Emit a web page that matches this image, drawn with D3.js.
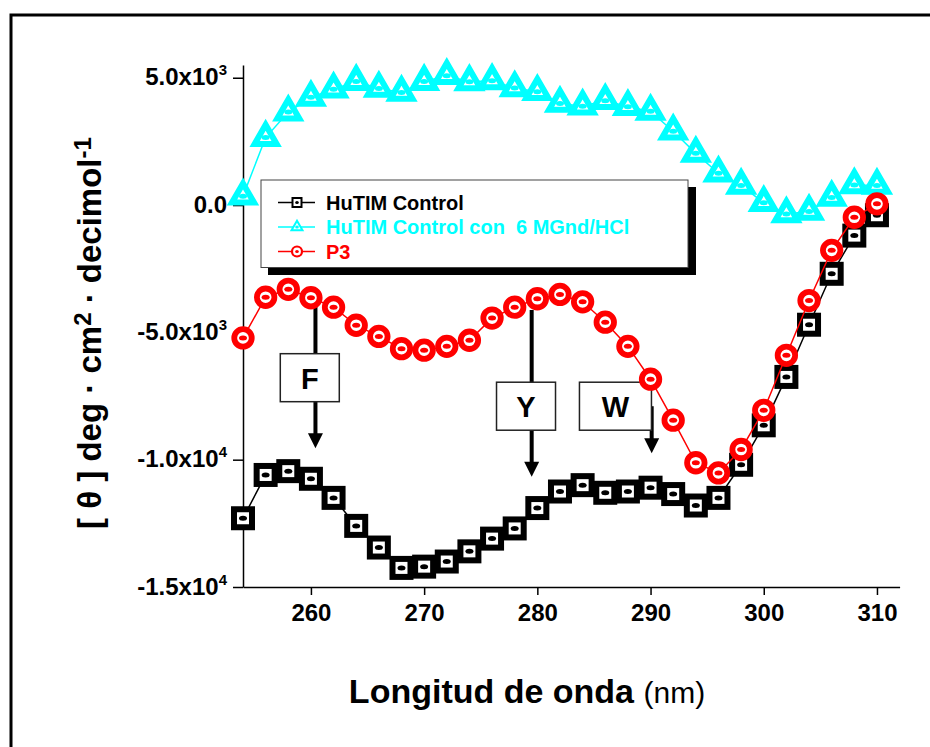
<!DOCTYPE html>
<html>
<head>
<meta charset="utf-8">
<script src="https://cdn.jsdelivr.net/npm/d3@7"></script>
<style>
  body { margin: 0; background: #fff; }
  svg { display: block; font-family: "Liberation Sans", Arial, sans-serif; }
  text { white-space: pre; }
</style>
</head>
<body>
<div id="vis"></div>
<script>
// wavelengths (nm) and ellipticity values
const wavelength = [254,256,258,260,262,264,266,268,270,272,274,276,278,280,282,
                    284,286,288,290,292,294,296,298,300,302,304,306,308,310];
const hutimControl = [-12300,-10600,-10450,-10750,-11500,-12600,-13450,-14250,-14200,-14000,
                      -13600,-13100,-12700,-11900,-11250,-11000,-11300,-11250,-11100,-11350,
                      -11800,-11500,-10200,-8650,-6750,-4700,-2700,-1200,-400];
const hutimGnd = [350,2650,3650,4230,4550,4850,4580,4420,4850,5080,
                  4840,4880,4600,4450,3990,3880,4100,3860,3680,2900,
                  2030,1250,770,90,-350,-250,300,790,770];
const p3 = [-5220,-3620,-3310,-3640,-4010,-4720,-5160,-5640,-5700,-5550,
            -5310,-4440,-4010,-3680,-3510,-3800,-4600,-5550,-6840,-8450,
            -10120,-10520,-9600,-8060,-5900,-3750,-1780,-480,50];

const seriesNames = ["HuTIM Control", "HuTIM Control con  6 MGnd/HCl", "P3"];
const xTicks = [260,270,280,290,300,310];
const xMinorTicks = [255,265,275,285,295,305];
const yTicks = [5000,0,-5000,-10000,-15000];
const yMinorTicks = [3750,2500,1250,-1250,-2500,-3750,-6250,-7500,-8750,-11250,-12500,-13750];

// residue arrows (F, Y, W)
const annLabels = ["F","Y","W"];
const annArrowNm = [260.4, 279.5, 290.1];
const annArrowFrom = [-3960, -4120, -7900];
const annArrowTo = [-9550, -10670, -9750];
const annBoxNm = [259.9, 279.0, 286.9];
const annBoxVal = [-6780, -7900, -7900];
const annBoxW = [59, 59, 72];

const width = 930, height = 747;
const x = d3.scaleLinear().domain([254, 312]).range([243, 899.6]);
const y = d3.scaleLinear().domain([-15000, 5500]).range([587, 65]);

const svg = d3.select("#vis").append("svg")
    .attr("width", width)
    .attr("height", height);

// outer frame (top + left edges visible)
svg.append("path")
    .attr("d", `M11,${height} V15 H${width}`)
    .attr("fill", "none")
    .attr("stroke", "#000")
    .attr("stroke-width", 3);

// x axis
const xg = svg.append("g").attr("transform", `translate(0,${y(-15000)})`);
xg.call(d3.axisBottom(x).tickValues(xMinorTicks).tickSize(5).tickSizeOuter(0).tickFormat(""));
xg.call(d3.axisBottom(x).tickValues(xTicks).tickSize(8).tickSizeOuter(0));
xg.selectAll("text")
    .attr("y", 34).attr("dy", null)
    .attr("font-size", 24).attr("font-weight", "bold")
    .attr("font-family", "Liberation Sans, Arial, sans-serif")
    .attr("fill", "#000");

// y axis
const yg = svg.append("g").attr("transform", `translate(${x(254)},0)`);
yg.call(d3.axisLeft(y).tickValues(yMinorTicks).tickSize(5).tickSizeOuter(0).tickFormat(""));
yg.call(d3.axisLeft(y).tickValues(yTicks).tickSize(10).tickSizeOuter(0).tickFormat(""));
yg.selectAll(".tick text").filter(d => yTicks.includes(d)).each(function(d) {
  const t = d3.select(this)
      .attr("x", -16).attr("y", 7).attr("dy", null)
      .attr("font-size", 24).attr("font-weight", "bold")
      .attr("font-family", "Liberation Sans, Arial, sans-serif")
      .attr("fill", "#000");
  if (d === 0) { t.text("0.0"); return; }
  const e = Math.floor(Math.log10(Math.abs(d)));
  const m = (d / Math.pow(10, e)).toFixed(1);
  t.append("tspan").text(m + "x10");
  t.append("tspan").attr("font-size", 15).attr("dy", -10).text(e);
});
svg.selectAll(".domain, .tick line").attr("stroke", "#000").attr("stroke-width", 1.5);

// axis titles
const yt = svg.append("text")
    .attr("transform", "translate(101,333) rotate(-90)")
    .attr("text-anchor", "middle")
    .attr("font-size", 33).attr("font-weight", "bold");
yt.append("tspan").text("[ θ ] deg · cm");
yt.append("tspan").attr("font-size", 24).attr("dy", -10).text("2");
yt.append("tspan").attr("dy", 10).text(" · decimol");
yt.append("tspan").attr("font-size", 24).attr("dy", -10).text("-1");

const xt = svg.append("text")
    .attr("x", 527).attr("y", 703)
    .attr("text-anchor", "middle");
xt.append("tspan").attr("font-size", 34).attr("font-weight", "bold").text("Longitud de onda ");
xt.append("tspan").attr("font-size", 30).text("(nm)");

// annotations
const ann = svg.append("g");
annLabels.forEach((lab, i) => {
  const ax = x(annArrowNm[i]);
  const y0 = y(annArrowFrom[i]), y1 = y(annArrowTo[i]);
  ann.append("line")
      .attr("x1", ax).attr("x2", ax)
      .attr("y1", y0).attr("y2", y1 - 12)
      .attr("stroke", "#000").attr("stroke-width", 4);
  ann.append("path")
      .attr("d", `M${ax},${y1} L${ax - 7.5},${y1 - 15} L${ax + 7.5},${y1 - 15} Z`)
      .attr("fill", "#000");
  const bx = x(annBoxNm[i]), by = y(annBoxVal[i]);
  ann.append("rect")
      .attr("x", bx - annBoxW[i] / 2).attr("y", by - 24)
      .attr("width", annBoxW[i]).attr("height", 48)
      .attr("fill", "#fff").attr("stroke", "#222").attr("stroke-width", 1.5);
  ann.append("text")
      .attr("x", bx).attr("y", by + 11)
      .attr("text-anchor", "middle")
      .attr("font-size", 29).attr("font-weight", "bold")
      .text(lab);
});

// markers
function marker(g, type, color, big) {
  if (type === "square") {
    const s = big ? 18 : 9;
    g.append("rect").attr("x", -s / 2).attr("y", -s / 2).attr("width", s).attr("height", s)
        .attr("fill", "#fff").attr("stroke", color).attr("stroke-width", big ? 6 : 2);
  } else if (type === "triangle") {
    const s = big ? 22 : 11, h = s * Math.sqrt(3) / 2;
    g.append("path").attr("d", `M0,${-2 * h / 3} L${-s / 2},${h / 3} L${s / 2},${h / 3} Z`)
        .attr("fill", "#fff").attr("stroke", color).attr("stroke-width", big ? 6 : 2)
        .attr("stroke-linejoin", "miter");
  } else {
    g.append("circle").attr("r", big ? 8.75 : 5)
        .attr("fill", "#fff").attr("stroke", color).attr("stroke-width", big ? 5.8 : 2.2);
  }
  g.append("ellipse").attr("rx", big ? 4 : 1.8).attr("ry", big ? 2.5 : 1.5).attr("fill", color);
}

const series = [
  {name: seriesNames[1], values: hutimGnd, color: "#00ffff", type: "triangle"},
  {name: seriesNames[0], values: hutimControl, color: "#000000", type: "square"},
  {name: seriesNames[2], values: p3, color: "#ff0000", type: "circle"}
];

const line = d3.line().x((d, i) => x(wavelength[i])).y(d => y(d));
series.forEach(s => {
  const g = svg.append("g");
  g.append("path")
      .attr("d", line(s.values))
      .attr("fill", "none").attr("stroke", s.color).attr("stroke-width", 1.5);
  g.selectAll("g.pt")
    .data(s.values)
    .join("g")
      .attr("class", "pt")
      .attr("transform", (d, i) => `translate(${x(wavelength[i])},${y(d)})`)
      .each(function() { marker(d3.select(this), s.type, s.color, true); });
});

// legend
const leg = svg.append("g");
leg.append("rect").attr("x", 268).attr("y", 187).attr("width", 428).attr("height", 88).attr("fill", "#000");
leg.append("rect").attr("x", 261).attr("y", 180).attr("width", 427).attr("height", 87.5)
    .attr("fill", "#fff").attr("stroke", "#444").attr("stroke-width", 1);
const legOrder = [series[1], series[0], series[2]];
legOrder.forEach((s, i) => {
  const base = 209.5 + i * 24.5;
  const ly = base - 7;
  leg.append("line").attr("x1", 278).attr("x2", 315).attr("y1", ly).attr("y2", ly)
      .attr("stroke", s.color).attr("stroke-width", 1.5);
  marker(leg.append("g").attr("transform", `translate(297,${ly})`), s.type, s.color, false);
  leg.append("text").attr("x", 326).attr("y", base)
      .attr("font-size", 20).attr("font-weight", "bold")
      .attr("fill", s.color).text(s.name);
});
</script>
</body>
</html>
